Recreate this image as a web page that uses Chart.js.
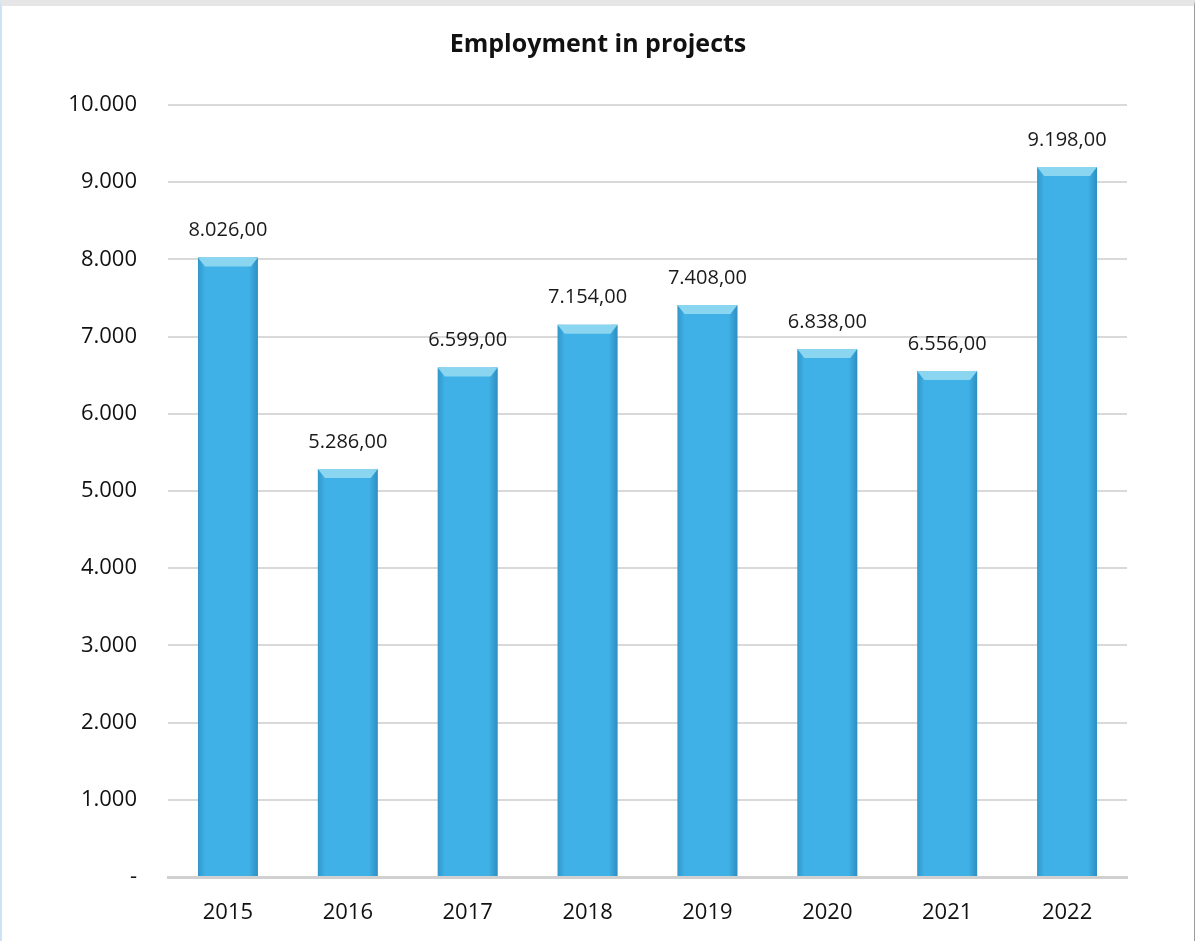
<!DOCTYPE html>
<html>
<head>
<meta charset="utf-8">
<script src="https://cdn.jsdelivr.net/npm/chart.js@4/dist/chart.umd.min.js"></script>
<style>
    html, body { margin: 0; padding: 0; background: #fff; }
    #wrap {
        position: relative;
        width: 1195px;
        height: 941px;
        box-sizing: border-box;
        border-left: 2px solid #cfe2f3;
        border-right: 1px solid #9a9a9a;
        border-top: 6px solid #e6e6e6;
    }
    canvas { display: block; }
</style>
</head>
<body>
<div id="wrap"><canvas id="employmentChart" width="1192" height="935"></canvas></div>
<script>
// Employment in projects, per year
const years = ['2015', '2016', '2017', '2018', '2019', '2020', '2021', '2022'];
const employment = [8026, 5286, 6599, 7154, 7408, 6838, 6556, 9198];
const yTicks = [0, 1000, 2000, 3000, 4000, 5000, 6000, 7000, 8000, 9000, 10000];
const chartTitle = 'Employment in projects';

const FONT = "'Open Sans', sans-serif";
const fmtInt = new Intl.NumberFormat('de-DE', { maximumFractionDigits: 0 });
const fmtDec = new Intl.NumberFormat('de-DE', { minimumFractionDigits: 2, maximumFractionDigits: 2 });

// bevel + edge shading drawn on top of each bar
const bevelBars = {
    id: 'bevelBars',
    afterDatasetsDraw(chart) {
        const ctx = chart.ctx;
        chart.getDatasetMeta(0).data.forEach(bar => {
            const left = bar.x - bar.width / 2;
            const right = bar.x + bar.width / 2;
            const top = bar.y;
            const bottom = bar.base;
            ctx.save();
            // side shading
            const g = ctx.createLinearGradient(left, 0, right, 0);
            g.addColorStop(0, 'rgba(20,90,140,0.3)');
            g.addColorStop(0.12, 'rgba(20,90,140,0)');
            g.addColorStop(0.85, 'rgba(20,90,140,0)');
            g.addColorStop(1, 'rgba(20,90,140,0.4)');
            ctx.fillStyle = g;
            ctx.fillRect(left, top, right - left, bottom - top);
            // top cap
            const cap = 9, inset = 7;
            ctx.beginPath();
            ctx.moveTo(left, top);
            ctx.lineTo(right, top);
            ctx.lineTo(right - inset, top + cap);
            ctx.lineTo(left + inset, top + cap);
            ctx.closePath();
            ctx.fillStyle = '#8ad5f0';
            ctx.fill();
            ctx.restore();
        });
    }
};

// value labels above bars + centred title
const valueLabels = {
    id: 'valueLabels',
    afterDatasetsDraw(chart) {
        const ctx = chart.ctx;
        ctx.save();
        ctx.font = '20px ' + FONT;
        ctx.fillStyle = '#1a1a1a';
        ctx.textAlign = 'center';
        ctx.textBaseline = 'middle';
        chart.getDatasetMeta(0).data.forEach((bar, i) => {
            ctx.fillText(fmtDec.format(employment[i]), bar.x, bar.y - 27);
        });
        ctx.font = 'bold 25px ' + FONT;
        ctx.fillStyle = '#111';
        ctx.fillText(chartTitle, chart.width / 2, 39);
        ctx.restore();
    }
};

new Chart(document.getElementById('employmentChart'), {
    type: 'bar',
    data: {
        labels: years,
        datasets: [{
            label: 'Employment',
            data: employment,
            backgroundColor: '#3fb1e6',
            borderWidth: 0,
            barPercentage: 0.5,
            categoryPercentage: 1.0
        }]
    },
    options: {
        responsive: false,
        animation: false,
        layout: {
            padding: { left: 0, right: 67, bottom: 0, top: 99 }
        },
        scales: {
            y: {
                min: 0,
                max: 10000,
                afterBuildTicks(scale) {
                    scale.ticks = yTicks.map(v => ({ value: v }));
                },
                afterFit(scale) {
                    scale.width = 166;
                },
                border: { display: false },
                grid: {
                    color: '#d9d9d9',
                    lineWidth: 2,
                    drawTicks: false
                },
                ticks: {
                    padding: 31,
                    color: '#111',
                    font: { family: FONT, size: 22 },
                    callback: v => v === 0 ? '-' : fmtInt.format(v)
                }
            },
            x: {
                afterFit(scale) {
                    scale.height = 64;
                },
                border: { display: true, color: '#d0d0d0', width: 3 },
                grid: { display: false },
                ticks: {
                    padding: 15,
                    color: '#111',
                    font: { family: FONT, size: 22 }
                }
            }
        },
        plugins: {
            legend: { display: false },
            tooltip: { enabled: false },
            title: { display: false }
        }
    },
    plugins: [bevelBars, valueLabels]
});
</script>
</body>
</html>
